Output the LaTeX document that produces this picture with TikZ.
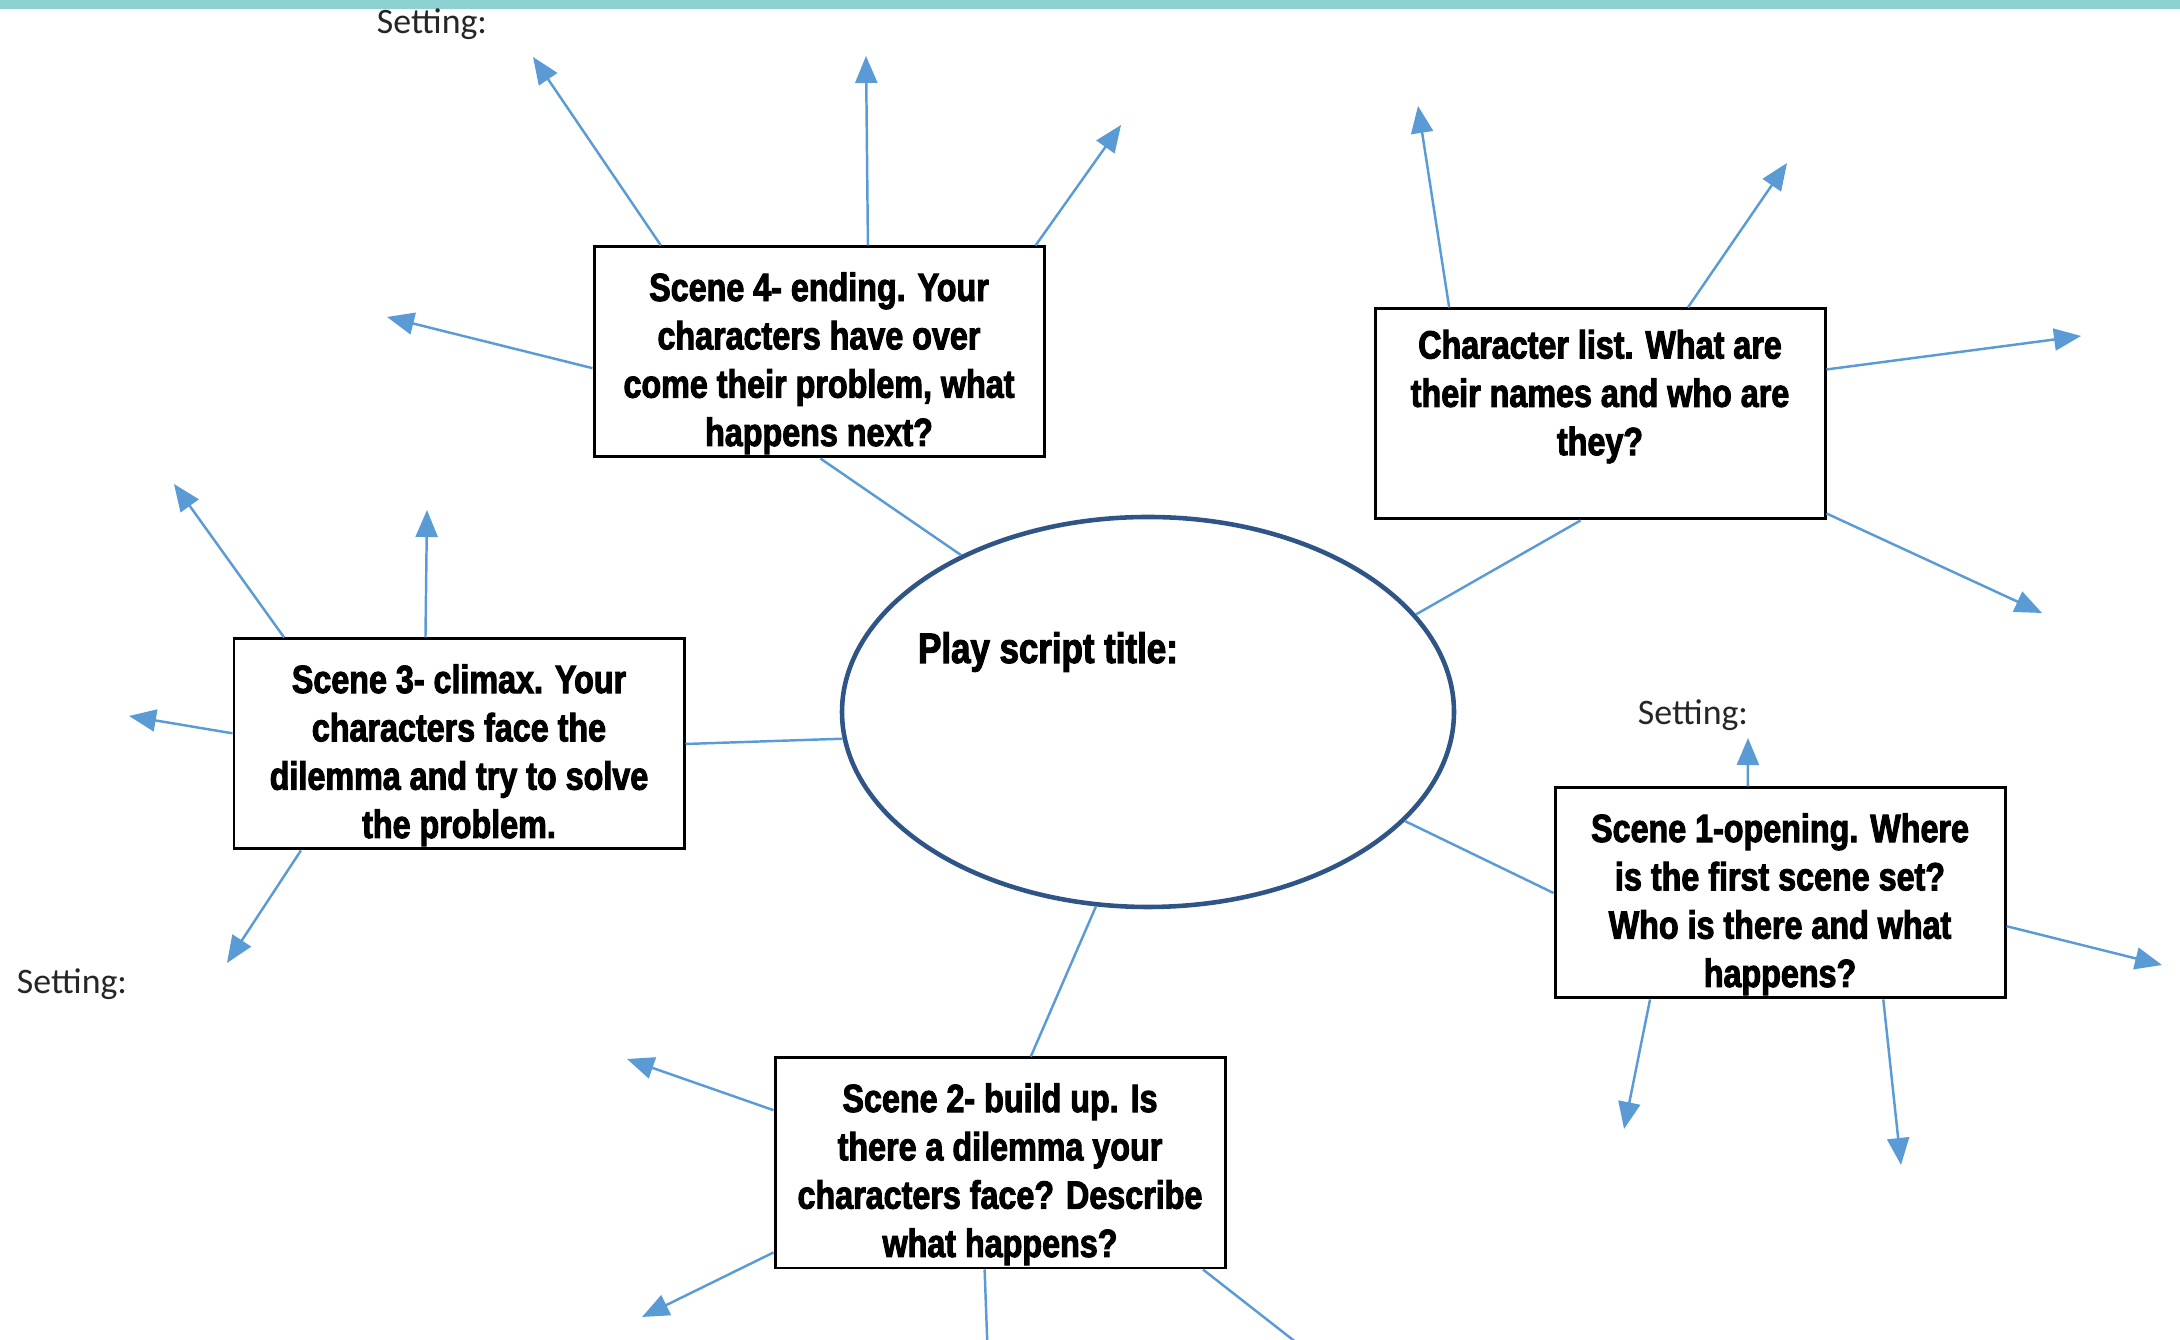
\documentclass[tikz,border=0pt]{standalone}
\usepackage{fontspec}
\newfontfamily\scenefont[FakeStretch=0.82, BoldFeatures={FakeBold=2.5}]{Liberation Sans}
\newfontfamily\settingfont{Carlito}
\usetikzlibrary{shapes.geometric,arrows.meta,calc}
\definecolor{barteal}{HTML}{8ED1D2}
\definecolor{arrowblue}{HTML}{5B9BD5}
\definecolor{ovalblue}{HTML}{2F5486}

\begin{document}
\begin{tikzpicture}[
    scenebox/.style={draw=black, line width=0.85pt, fill=white, minimum width=4.5cm, minimum height=2.1cm,
      inner sep=0pt, align=center, font=\scenefont\bfseries\fontsize{11.2}{13.75}\selectfont,
      text height=1.99cm, text depth=0.11cm},
    spoke/.style={draw=arrowblue, line width=0.7pt},
    arrowline/.style={spoke, -{Triangle[length=0.27cm,width=0.22cm]}},
    settinglabel/.style={font=\settingfont\fontsize{10.2}{12}\selectfont, text=black!85}
  ]
  \useasboundingbox (0,0) rectangle (21.8,13.4);
  \clip (0,0) rectangle (21.8,13.4);

  % Top bar
  \fill[barteal] (0,13.31) rectangle (21.8,13.4);

  % Title oval
  \node[ellipse, draw=ovalblue, line width=1.3pt, minimum width=6.12cm, minimum height=3.9cm, inner sep=0pt] (play) at (11.48,6.28) {};
  \node[font=\scenefont\bfseries\fontsize{12.1}{14}\selectfont] (title) at (10.48,6.88) {Play script title:};

  % Scene boxes
  \node[scenebox] (s4) at (8.19,9.88) {Scene 4- ending. Your\\characters have over\\come their problem, what\\happens next?};
  \node[scenebox, text height=1.945cm, text depth=0.155cm] (cl) at (16.00,9.26) {Character list. What are\\their names and who are\\they?\\ };
  \node[scenebox] (s3) at (4.59,5.96) {Scene 3- climax. Your\\characters face the\\dilemma and try to solve\\the problem.};
  \node[scenebox] (s1) at (17.80,4.47) {Scene 1-opening. Where\\is the first scene set?\\Who is there and what\\happens?};
  \node[scenebox] (s2) at (10.00,1.77) {Scene 2- build up. Is\\there a dilemma your\\characters face? Describe\\what happens?};

  % Setting labels
  \node[settinglabel] (set4) at (4.32,13.16) {Setting:};
  \node[settinglabel] (set1) at (16.93,6.25) {Setting:};
  \node[settinglabel] (set3) at (0.72,3.56) {Setting:};

  % Arrow ends
  \coordinate (s4a) at (5.33,12.83);
  \coordinate (s4b) at (8.66,12.84);
  \coordinate (s4c) at (11.21,12.15);
  \coordinate (s4d) at (3.87,10.23);
  \coordinate (cla) at (14.18,12.34);
  \coordinate (clb) at (17.87,11.77);
  \coordinate (clc) at (20.81,10.04);
  \coordinate (cld) at (20.42,7.27);
  \coordinate (s3a) at (1.74,8.56);
  \coordinate (s3b) at (4.27,8.30);
  \coordinate (s3c) at (1.29,6.24);
  \coordinate (s3d) at (2.27,3.77);
  \coordinate (s1a) at (17.48,6.02);
  \coordinate (s1b) at (21.62,3.75);
  \coordinate (s1c) at (16.24,2.11);
  \coordinate (s1d) at (19.01,1.75);
  \coordinate (s2a) at (6.27,2.81);
  \coordinate (s2b) at (6.42,0.23);
  \coordinate (s2c) at (9.89,-0.50);
  \coordinate (s2d) at (13.57,-0.50);

  % Arrows out of the boxes
  \foreach \p/\q/\f/\e in {s4.north west/s4.north east/0.151/s4a, s4.north west/s4.north east/0.608/s4b,
      s4.north west/s4.north east/0.978/s4c, s4.north west/s4.south west/0.576/s4d,
      cl.north west/cl.north east/0.167/cla, cl.north west/cl.north east/0.694/clb,
      cl.north east/cl.south east/0.291/clc, cl.north east/cl.south east/0.967/cld,
      s3.north west/s3.north east/0.114/s3a, s3.north west/s3.north east/0.426/s3b,
      s3.north west/s3.south west/0.45/s3c, s3.south west/s3.south east/0.151/s3d,
      s1.north west/s1.north east/0.429/s1a, s1.north east/s1.south east/0.656/s1b,
      s1.south west/s1.south east/0.213/s1c, s1.south west/s1.south east/0.728/s1d,
      s2.north west/s2.south west/0.252/s2a, s2.north west/s2.south west/0.92/s2b,
      s2.south west/s2.south east/0.466/s2c, s2.south west/s2.south east/0.948/s2d} {
    \draw[arrowline] ($(\p)!\f!(\q)$) -- (\e);
  }

  % Spokes to the oval
  \draw[spoke] ($(s4.south west)!0.503!(s4.south east)$) -- (play.140);
  \draw[spoke] ($(cl.south west)!0.457!(cl.south east)$) -- (play.20);
  \draw[spoke] (s3.east) -- (play.185);
  \draw[spoke] (s1.west) -- (play.337);
  \draw[spoke] ($(s2.north west)!0.568!(s2.north east)$) -- (play.255);
\end{tikzpicture}
\end{document}
